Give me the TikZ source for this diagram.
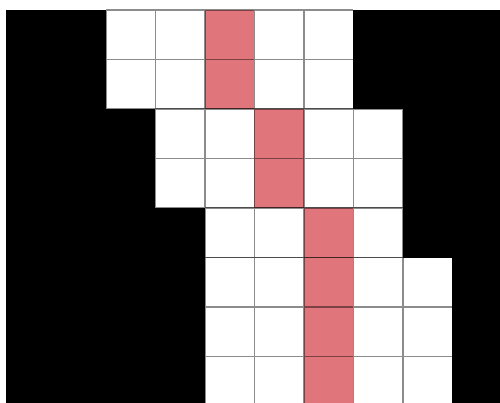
\documentclass[tikz,border=0pt]{standalone}
\usepackage{xcolor}
\usepackage{tikz}
\definecolor{rougeCase}{RGB}{224,117,123}

\begin{document}
\begin{tikzpicture}[x=1cm,y=1cm,
    caseBlanche/.style={fill=white},
    caseRouge/.style={fill=rougeCase},
    traitGrille/.style={draw=black, draw opacity=0.45, line width=0.8pt}]

\clip (-2.141,0.202) rectangle (7.960,-7.939);
\fill[white] (-2.141,0.202) rectangle (7.960,-7.939);
\fill[black] (-2.02,0) rectangle (7.960,-7.939);

% rangees 1-2
\fill[caseBlanche] (0,0) rectangle (5,-2);
\fill[caseRouge] (2,0) rectangle (3,-2);
\draw[traitGrille] (0,0) grid (5,-2);

% rangees 3-4
\fill[caseBlanche] (1,-2) rectangle (6,-4);
\fill[caseRouge] (3,-2) rectangle (4,-4);
\draw[traitGrille] (1,-2) grid (6,-4);

% rangee 5
\fill[caseBlanche] (2,-4) rectangle (6,-5);
\fill[caseRouge] (4,-4) rectangle (5,-5);
\draw[traitGrille] (2,-4) grid (6,-5);

% rangees 6-8
\fill[caseBlanche] (2,-5) rectangle (7,-8);
\fill[caseRouge] (4,-5) rectangle (5,-8);
\draw[traitGrille] (2,-5) grid (7,-8);

\end{tikzpicture}
\end{document}
